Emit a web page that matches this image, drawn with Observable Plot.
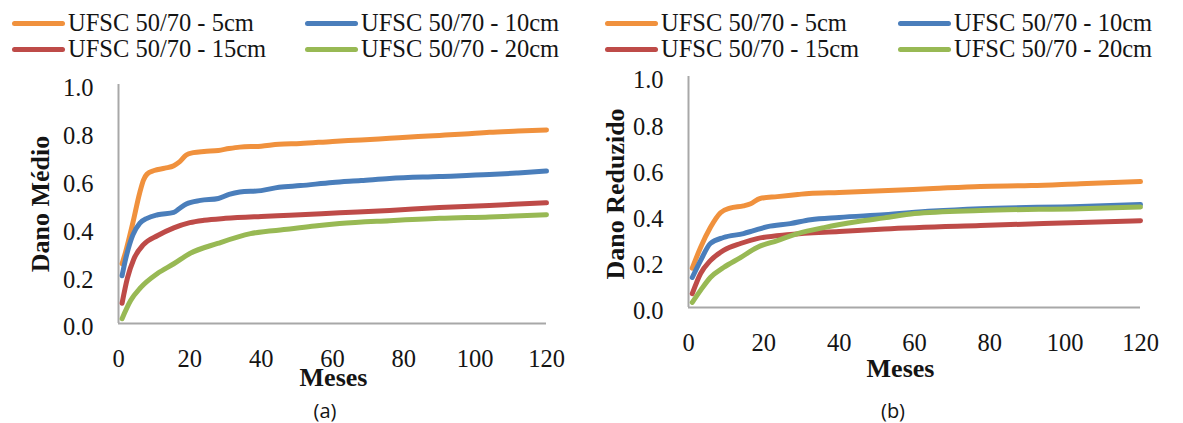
<!DOCTYPE html>
<html><head><meta charset="utf-8">
<script src="https://cdn.jsdelivr.net/npm/d3@7"></script>
<script src="https://cdn.jsdelivr.net/npm/@observablehq/plot@0.6"></script>
<style>
body{margin:0;background:#fff;}
#root{position:relative;width:1183px;height:423px;overflow:hidden;font-family:'Liberation Serif','Times New Roman',serif;background:#fff;}
.leg{position:absolute;display:flex;align-items:center;height:28px;font-size:24.5px;line-height:28px;color:#141414;white-space:nowrap;}
.leg .sw{width:53px;height:5px;border-radius:3px;margin-right:3px;flex:none;}
.cap{position:absolute;font-family:'Open Sans',Lato,sans-serif;font-size:20px;color:#141414;transform:translate(-50%,-50%);}
.panel{position:absolute;top:0;}
</style></head><body><div id="root"></div>
<script>
// ---- data ----
const seriesNames = ["UFSC 50/70 - 5cm", "UFSC 50/70 - 10cm", "UFSC 50/70 - 15cm", "UFSC 50/70 - 20cm"];
const seriesColors = ["#f0913d", "#4a7ebb", "#be4b48", "#98b954"];
const xTicks = [0, 20, 40, 60, 80, 100, 120];
const yTicks = [0, 0.2, 0.4, 0.6, 0.8, 1.0];

// Panel (a) Dano Médio : [mês, valor]
const medio5 = [[1,0.25],[2,0.30],[4,0.42],[6,0.55],[7,0.60],[8,0.625],[10,0.64],[13,0.65],[15.5,0.66],[17,0.675],[19,0.705],[21,0.715],[24,0.72],[28,0.724],[31,0.732],[34,0.738],[40,0.742],[45,0.75],[51,0.753],[60,0.762],[68,0.768],[76,0.775],[84,0.782],[90,0.787],[97,0.793],[104,0.80],[112,0.805],[120,0.81]];
const medio10 = [[1,0.20],[2,0.27],[4,0.37],[6,0.42],[8,0.44],[11,0.455],[15.5,0.465],[17,0.48],[19,0.50],[23,0.515],[28,0.523],[31,0.54],[34,0.55],[40,0.556],[45,0.57],[51,0.577],[60,0.59],[68,0.598],[76,0.607],[90,0.615],[104,0.623],[112,0.63],[120,0.638]];
const medio15 = [[1,0.085],[2.5,0.19],[4.3,0.27],[7,0.33],[11,0.368],[15.5,0.40],[20,0.422],[24,0.432],[30,0.44],[40,0.448],[48,0.453],[62,0.463],[76,0.473],[90,0.485],[104,0.494],[120,0.505]];
const medio20 = [[1,0.02],[3.4,0.096],[6.2,0.15],[11,0.21],[15.5,0.25],[20,0.293],[27.8,0.335],[37,0.376],[48,0.395],[55,0.408],[62,0.418],[76,0.43],[90,0.44],[104,0.446],[120,0.455]];

// Panel (b) Dano Reduzido : [mês, valor]
const reduzido5 = [[1,0.17],[3.2,0.26],[5.8,0.346],[8.5,0.41],[11,0.43],[14.6,0.44],[16.5,0.449],[19,0.472],[23.6,0.48],[29,0.489],[32,0.494],[40,0.498],[53,0.506],[65,0.515],[77.5,0.524],[91,0.528],[104,0.536],[120,0.545]];
const reduzido10 = [[1,0.13],[3.2,0.203],[5.8,0.277],[9.3,0.303],[14.6,0.32],[17.3,0.333],[21,0.35],[27,0.363],[32.4,0.38],[40,0.39],[52,0.402],[65,0.418],[77.5,0.428],[104,0.437],[120,0.446]];
const reduzido15 = [[1,0.06],[3.2,0.147],[5.8,0.203],[9.3,0.247],[13.8,0.277],[18.2,0.298],[27,0.316],[40,0.329],[52,0.34],[77.5,0.355],[104,0.368],[120,0.376]];
const reduzido20 = [[1,0.022],[3.2,0.074],[5.8,0.13],[9.3,0.173],[13.8,0.216],[18.2,0.26],[23.6,0.29],[29,0.32],[36,0.346],[45,0.372],[52,0.388],[60,0.407],[77.5,0.42],[104,0.428],[120,0.435]];

// ---- build ----
const serif = "Liberation Serif";
const fmt = d3.format(".1f");
function table(arrs){
  const rows = [];
  arrs.forEach((a, i) => a.forEach(([m, v]) => rows.push({series: seriesNames[i], m, v})));
  return rows;
}
const root = document.getElementById("root");

function panel(cfg){
  const rows = table(cfg.series);
  const chart = Plot.plot({
    width: cfg.width, height: 423,
    marginLeft: cfg.ml, marginRight: cfg.mr, marginTop: cfg.mt, marginBottom: cfg.mb,
    x: {domain: [0, 120], axis: null},
    y: {domain: [0, 1], axis: null},
    color: {domain: seriesNames, range: seriesColors},
    style: {fontFamily: serif, fontSize: "24px", background: "transparent", color: "#141414", overflow: "visible"},
    marks: [
      Plot.ruleX([0], {stroke: "#a8a8a8", strokeWidth: 2}),
      Plot.ruleY([0], {stroke: "#a8a8a8", strokeWidth: 2}),
      // tick labels drawn through the x / y scales
      Plot.text(xTicks, {x: d => d, text: d => String(d), frameAnchor: "bottom", dy: 36, textAnchor: "middle", lineAnchor: "middle", fontSize: 24.5, fontFamily: serif, fill: "#141414"}),
      Plot.text(yTicks, {y: d => d, text: d => fmt(d), frameAnchor: "left", dx: -25, dy: 4, textAnchor: "end", lineAnchor: "middle", fontSize: 24.5, fontFamily: serif, fill: "#141414"}),
      Plot.line(rows, {x: "m", y: "v", stroke: "series", z: "series", strokeWidth: 5, curve: "monotone-x", strokeLinecap: "round", strokeLinejoin: "round"}),
      Plot.text([cfg.xTitle], {text: d => d, frameAnchor: "bottom", dy: cfg.xdy, dx: cfg.xdx, textAnchor: "middle", lineAnchor: "middle", fontWeight: "bold", fontSize: 26, fontFamily: serif, fill: "#141414"}),
      Plot.text([cfg.yTitle], {text: d => d, frameAnchor: "left", dx: cfg.ydx, dy: cfg.ydy, rotate: -90, textAnchor: "middle", lineAnchor: "middle", fontWeight: "bold", fontSize: 26, fontFamily: serif, fill: "#141414"})
    ]
  });
  const wrap = document.createElement("div");
  wrap.className = "panel";
  wrap.style.left = cfg.left + "px";
  wrap.appendChild(chart);
  root.appendChild(wrap);

  // legend
  const cols = cfg.legCols, rowsY = [9, 35];
  seriesNames.forEach((name, i) => {
    const item = document.createElement("div");
    item.className = "leg";
    item.style.left = cols[i % 2] + "px";
    item.style.top = rowsY[Math.floor(i / 2)] + "px";
    const sw = document.createElement("div");
    sw.className = "sw";
    sw.style.background = seriesColors[i];
    item.appendChild(sw);
    item.appendChild(document.createTextNode(name));
    root.appendChild(item);
  });
  const cap = document.createElement("div");
  cap.className = "cap";
  cap.textContent = cfg.caption;
  cap.style.left = cfg.capX + "px";
  cap.style.top = "410px";
  root.appendChild(cap);
}

panel({series: [medio5, medio10, medio15, medio20], left: 0, width: 590, ml: 118, mr: 44, mt: 84, mb: 100,
  xTitle: "Meses", yTitle: "Dano Médio", xdx: 1, xdy: 54, ydx: -78, ydy: 0, legCols: [12, 305], caption: "(a)", capX: 325});
panel({series: [reduzido5, reduzido10, reduzido15, reduzido20], left: 590, width: 593, ml: 98, mr: 43, mt: 76, mb: 116,
  xTitle: "Meses", yTitle: "Dano Reduzido", xdx: -14, xdy: 61, ydx: -73, ydy: 2, legCols: [605, 898], caption: "(b)", capX: 893});
</script>
</body></html>
